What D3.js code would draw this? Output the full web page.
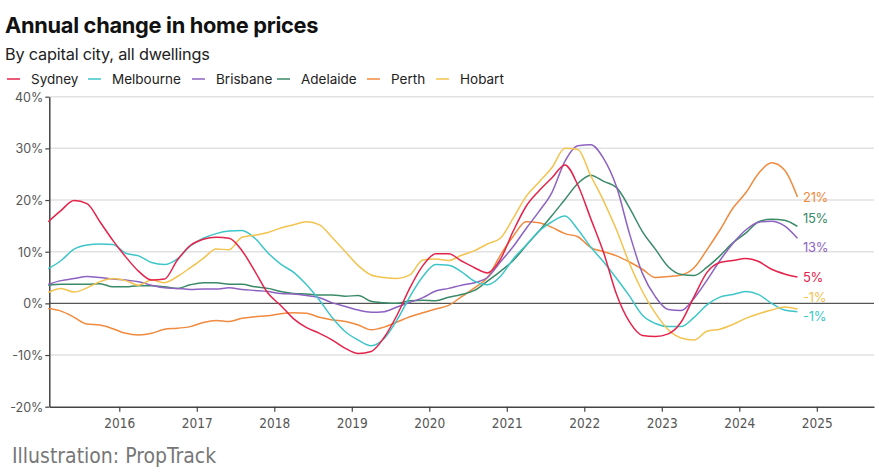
<!DOCTYPE html>
<html>
<head>
<meta charset="utf-8">
<script src="https://cdn.jsdelivr.net/npm/d3@7"></script>
<style>
  html, body { margin: 0; padding: 0; background: #fff; }
  svg { display: block; }
</style>
</head>
<body>
<svg id="chart" width="879" height="472"></svg>
<script>
const months = [
  "2015-02","2015-04","2015-06","2015-08","2015-10","2015-12",
  "2016-02","2016-04","2016-06","2016-08","2016-10","2016-12",
  "2017-02","2017-04","2017-06","2017-08","2017-10","2017-12",
  "2018-02","2018-04","2018-06","2018-08","2018-10","2018-12",
  "2019-02","2019-04","2019-06","2019-08","2019-10","2019-12",
  "2020-02","2020-04","2020-06","2020-08","2020-10","2020-12",
  "2021-02","2021-04","2021-06","2021-08","2021-10","2021-12",
  "2022-02","2022-04","2022-06","2022-08","2022-10","2022-12",
  "2023-02","2023-04","2023-06","2023-08","2023-10","2023-12",
  "2024-02","2024-04","2024-06","2024-08","2024-10"
];
const cities = ["Sydney","Melbourne","Brisbane","Adelaide","Perth","Hobart"];
const colors = ["#e4234b","#3ec5c9","#8d62c0","#3a8a68","#f08a3e","#f3c34f"];
const sydney = [15.8,18.0,19.9,19.3,15.8,12.2,9.0,6.2,4.5,4.7,8.4,11.2,12.4,12.8,12.6,10.2,6.2,2.0,-0.4,-3.0,-4.7,-5.8,-7.1,-8.7,-9.7,-9.3,-6.6,-2.3,3.0,7.3,9.6,9.6,8.2,6.9,5.9,8.5,14.0,18.8,21.8,24.3,26.8,22.9,16.4,9.8,1.7,-3.6,-6.2,-6.4,-5.9,-3.6,1.3,6.0,7.9,8.3,8.7,8.1,6.6,5.7,5.1];
const melbourne = [6.7,8.3,10.5,11.3,11.5,11.4,9.7,9.2,7.9,7.5,8.6,11.1,12.6,13.5,14.0,14.1,12.6,9.8,7.6,6.0,3.6,0.6,-2.8,-5.5,-7.1,-8.2,-6.8,-3.2,1.3,5.2,7.5,7.4,6.1,4.3,3.6,5.2,8.6,11.3,14.0,15.8,16.9,14.3,10.9,8.0,4.8,1.4,-2.3,-3.9,-4.5,-4.5,-2.7,-0.3,1.2,1.7,2.3,1.7,0.0,-1.3,-1.6];
const brisbane = [3.7,4.4,4.8,5.2,5.0,4.7,4.5,4.2,3.5,3.0,2.9,2.7,2.8,2.8,3.0,2.7,2.5,2.3,1.9,1.8,1.5,1.1,0.1,-0.6,-1.3,-1.7,-1.6,-0.7,0.2,1.1,2.4,2.9,3.5,4.0,5.0,8.0,11.0,14.5,17.8,21.5,27.5,30.5,30.7,28.0,22.5,13.5,5.8,1.3,-1.2,-1.4,1.0,4.5,8.3,11.6,14.2,15.7,15.9,15.0,12.6];
const adelaide = [3.5,3.7,3.7,3.7,3.8,3.2,3.2,3.4,3.4,3.2,2.9,3.6,4.0,4.0,3.7,3.7,3.2,2.9,2.3,1.9,1.8,1.6,1.6,1.4,1.5,0.4,0.1,0.0,0.5,0.6,0.5,1.2,1.7,2.5,4.3,6.2,8.3,11.2,14.0,17.0,20.1,23.2,24.8,23.6,22.4,18.5,13.9,10.5,7.1,5.6,5.4,7.0,9.2,11.7,13.6,15.8,16.3,16.1,14.9];
const perth = [-1.0,-1.5,-2.7,-4.0,-4.2,-4.9,-5.8,-6.1,-5.8,-5.0,-4.8,-4.5,-3.7,-3.3,-3.5,-2.9,-2.6,-2.4,-2.0,-1.8,-1.9,-2.7,-3.2,-3.5,-4.2,-5.1,-4.6,-3.6,-2.6,-1.8,-1.1,-0.4,1.3,3.0,5.0,9.3,13.0,15.8,15.6,14.7,13.5,12.9,10.8,10.0,9.2,8.0,6.6,5.0,5.2,5.5,6.9,10.4,14.2,18.4,21.4,25.2,27.2,25.8,20.6];
const hobart = [2.1,2.9,2.2,3.0,4.2,4.8,4.4,3.5,4.5,4.0,5.2,6.9,8.7,10.5,10.4,12.8,13.2,13.7,14.6,15.2,15.8,15.2,12.7,10.0,7.3,5.5,5.0,4.8,5.5,8.4,8.6,8.3,9.3,10.2,11.5,12.6,16.5,20.7,23.5,26.3,30.0,29.8,24.7,19.8,14.2,7.7,2.3,-1.9,-5.1,-6.7,-7.1,-5.4,-5.0,-4.1,-2.9,-2.0,-1.3,-0.7,-1.1];
const endLabels = ["5%","-1%","13%","15%","21%","-1%"];
const yTicks = [-20,-10,0,10,20,30,40];
const xTicks = [2016,2017,2018,2019,2020,2021,2022,2023,2024,2025];

const seriesValues = [sydney, melbourne, brisbane, adelaide, perth, hobart];
const toYear = s => { const [yy, m] = s.split("-").map(Number); return yy + (m - 1) / 12; };

const svg = d3.select("#chart");
const mLeft = 49.3, mRight = 874, mTop = 96.7, mBottom = 406.7;
const x = d3.scaleLinear().domain([2015.097, 2025.738]).range([mLeft, mRight]);
const y = d3.scaleLinear().domain([-20, 40]).range([mBottom, mTop]);
const font = "Inter, 'Noto Sans', sans-serif";
const narrow = "'DejaVu Sans Condensed', 'Liberation Sans Narrow', sans-serif";

// Title
svg.append("text").attr("x", 5).attr("y", 33).attr("font-family", font)
  .attr("font-weight", 700).attr("font-size", 21.8).attr("fill", "#111")
  .attr("letter-spacing", "-0.3").text("Annual change in home prices");
svg.append("text").attr("x", 5).attr("y", 60).attr("font-family", font)
  .attr("font-size", 16.3).attr("fill", "#222").attr("letter-spacing", "-0.2")
  .text("By capital city, all dwellings");

// Legend
const legendX = [7, 88, 192, 277, 367, 436];
const lg = svg.append("g");
cities.forEach((c, i) => {
  lg.append("line").attr("x1", legendX[i]).attr("x2", legendX[i] + 13)
    .attr("y1", 79).attr("y2", 79).attr("stroke", colors[i]).attr("stroke-width", 1.5);
  lg.append("text").attr("x", legendX[i] + 24).attr("y", 84).attr("font-family", font)
    .attr("font-size", 13.5).attr("fill", "#222").text(c);
});

// Grid
svg.append("g").selectAll("line").data(yTicks.filter(d => d !== -20)).join("line")
  .attr("x1", mLeft).attr("x2", mRight).attr("y1", d => y(d)).attr("y2", d => y(d))
  .attr("stroke", d => d === 0 ? "#555" : "#e2e2e2").attr("stroke-width", d => d === 0 ? 1.2 : 1.5);

// Y axis
const yAxis = svg.append("g").attr("transform", `translate(${mLeft},0)`)
  .call(d3.axisLeft(y).tickValues(yTicks).tickFormat(d => d + "%").tickSize(4).tickSizeOuter(0));
yAxis.select(".domain").attr("stroke", "#444").attr("stroke-width", 1.5);
yAxis.selectAll(".tick line").attr("stroke", "#444").attr("stroke-width", 1.2);
yAxis.selectAll(".tick text").attr("font-family", font).attr("font-size", 12.5)
  .attr("fill", "#555").attr("x", -6).attr("dy", "0.35em");

// X axis
const xAxis = svg.append("g").attr("transform", `translate(0,${mBottom})`)
  .call(d3.axisBottom(x).tickValues(xTicks).tickFormat(d3.format("d")).tickSize(5).tickSizeOuter(0));
xAxis.select(".domain").attr("stroke", "#444").attr("stroke-width", 1.5);
xAxis.selectAll(".tick line").attr("stroke", "#444").attr("stroke-width", 1.2);
xAxis.selectAll(".tick text").attr("font-family", narrow)
  .attr("font-size", 13.5).attr("fill", "#555").attr("dy", "1.0em");

// Lines
const line = d3.line().x(d => x(d[0])).y(d => y(d[1])).curve(d3.curveMonotoneX);
const years = months.map(toYear);
const order = [4, 3, 2, 1, 5, 0];
order.forEach(i => {
  const pts = years.map((t, j) => [t, seriesValues[i][j]]);
  svg.append("path").attr("d", line(pts)).attr("fill", "none")
    .attr("stroke", colors[i]).attr("stroke-width", 1.5).attr("stroke-linejoin", "round");
});

// End labels
const labelY = [277, 316, 247, 218, 197, 297];
cities.forEach((c, i) => {
  svg.append("text").attr("x", 803).attr("y", labelY[i]).attr("dy", "0.35em")
    .attr("font-family", font).attr("font-size", 13).attr("fill", colors[i])
    .attr("letter-spacing", "-0.3").text(endLabels[i]);
});

// Source
svg.append("text").attr("x", 12).attr("y", 463).attr("font-family", narrow)
  .attr("font-size", 21).attr("fill", "#777").text("Illustration: PropTrack");
</script>
</body>
</html>
